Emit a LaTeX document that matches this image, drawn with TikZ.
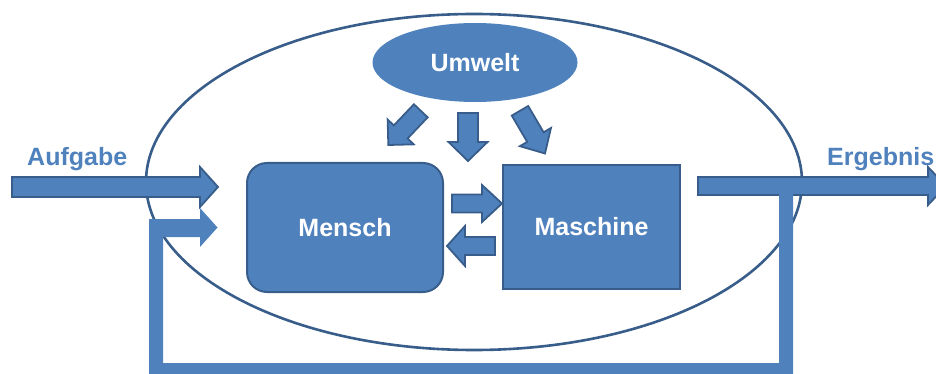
\documentclass[tikz,border=0pt]{standalone}
\usepackage{fontspec}
\setmainfont{Liberation Sans}
\usetikzlibrary{calc,shapes.geometric}
\definecolor{cfill}{HTML}{4F81BD}
\definecolor{cline}{HTML}{385D8A}
\tikzset{
  barrowstyle/.style={fill=cfill, draw=cline, line width=1.8pt, line join=miter},
  boxstyle/.style={fill=cfill, draw=cline, line width=2pt, text=white,
    font=\fontsize{25}{29}\selectfont\bfseries, inner sep=0pt},
  lbl/.style={text=cfill, font=\fontsize{25}{29}\selectfont\bfseries, inner sep=0pt}
}
% block arrow: style, tail, tip, shaft half width, head half width, head length
\newcommand{\barrow}[6]{%
  \coordinate (bT) at (#2);
  \coordinate (bP) at (#3);
  \coordinate (bH) at ($(bP)!#6!(bT)$);
  \path[#1] ($(bT)!#4!90:(bP)$) -- ($(bH)!#4!90:(bP)$) -- ($(bH)!#5!90:(bP)$)
    -- (bP) -- ($(bH)!#5!-90:(bP)$) -- ($(bH)!#4!-90:(bP)$)
    -- ($(bT)!#4!-90:(bP)$) -- cycle;
}
\begin{document}
\begin{tikzpicture}[x=1pt,y=-1pt]
\useasboundingbox (0,0) rectangle (936,374);
% system ellipse
\node[draw=cline, line width=2.6pt, ellipse, minimum width=656pt, minimum height=336pt, inner sep=0pt] (system) at (474,182) {};
% blocks
\node[boxstyle, rounded corners=20pt, minimum width=196pt, minimum height=129pt] (mensch) at (345,227.5) {Mensch};
\node[boxstyle, minimum width=177pt, minimum height=124pt] (maschine) at (591.5,227) {Maschine};
\node[boxstyle, draw=none, ellipse, minimum width=205pt, minimum height=79pt] (umwelt) at (475,62.5) {Umwelt};
% labels
\node[lbl, anchor=base west] (aufgabe) at (27,166) {Aufgabe};
\node[lbl, anchor=base west] (ergebnis) at (827,166) {Ergebnis};
% Umwelt influence arrows
\barrow{barrowstyle}{420.8,110.8}{388.3,145}{9.5pt}{18pt}{18pt}
\barrow{barrowstyle}{468,113}{468,161}{10pt}{19.5pt}{19pt}
\barrow{barrowstyle}{520,110.8}{545,153.5}{9.5pt}{18pt}{19pt}
% Mensch <-> Maschine
\barrow{barrowstyle}{452,203.5}{502,203.5}{9pt}{18.5pt}{20pt}
\barrow{barrowstyle}{495,246}{447,246}{9pt}{20pt}{18pt}
% input and output
\barrow{barrowstyle}{12,187}{218,187}{10pt}{20pt}{18pt}
\barrow{barrowstyle}{698,186}{946,186}{9pt}{19pt}{18pt}
% feedback loop
\fill[cfill] (149,219) -- (200,219) -- (200,208) -- (217.5,227.5) -- (200,247)
  -- (200,237) -- (163,237) -- (163,363) -- (779,363) -- (779,190)
  -- (793,190) -- (793,378) -- (149,378) -- cycle;
\end{tikzpicture}
\end{document}
